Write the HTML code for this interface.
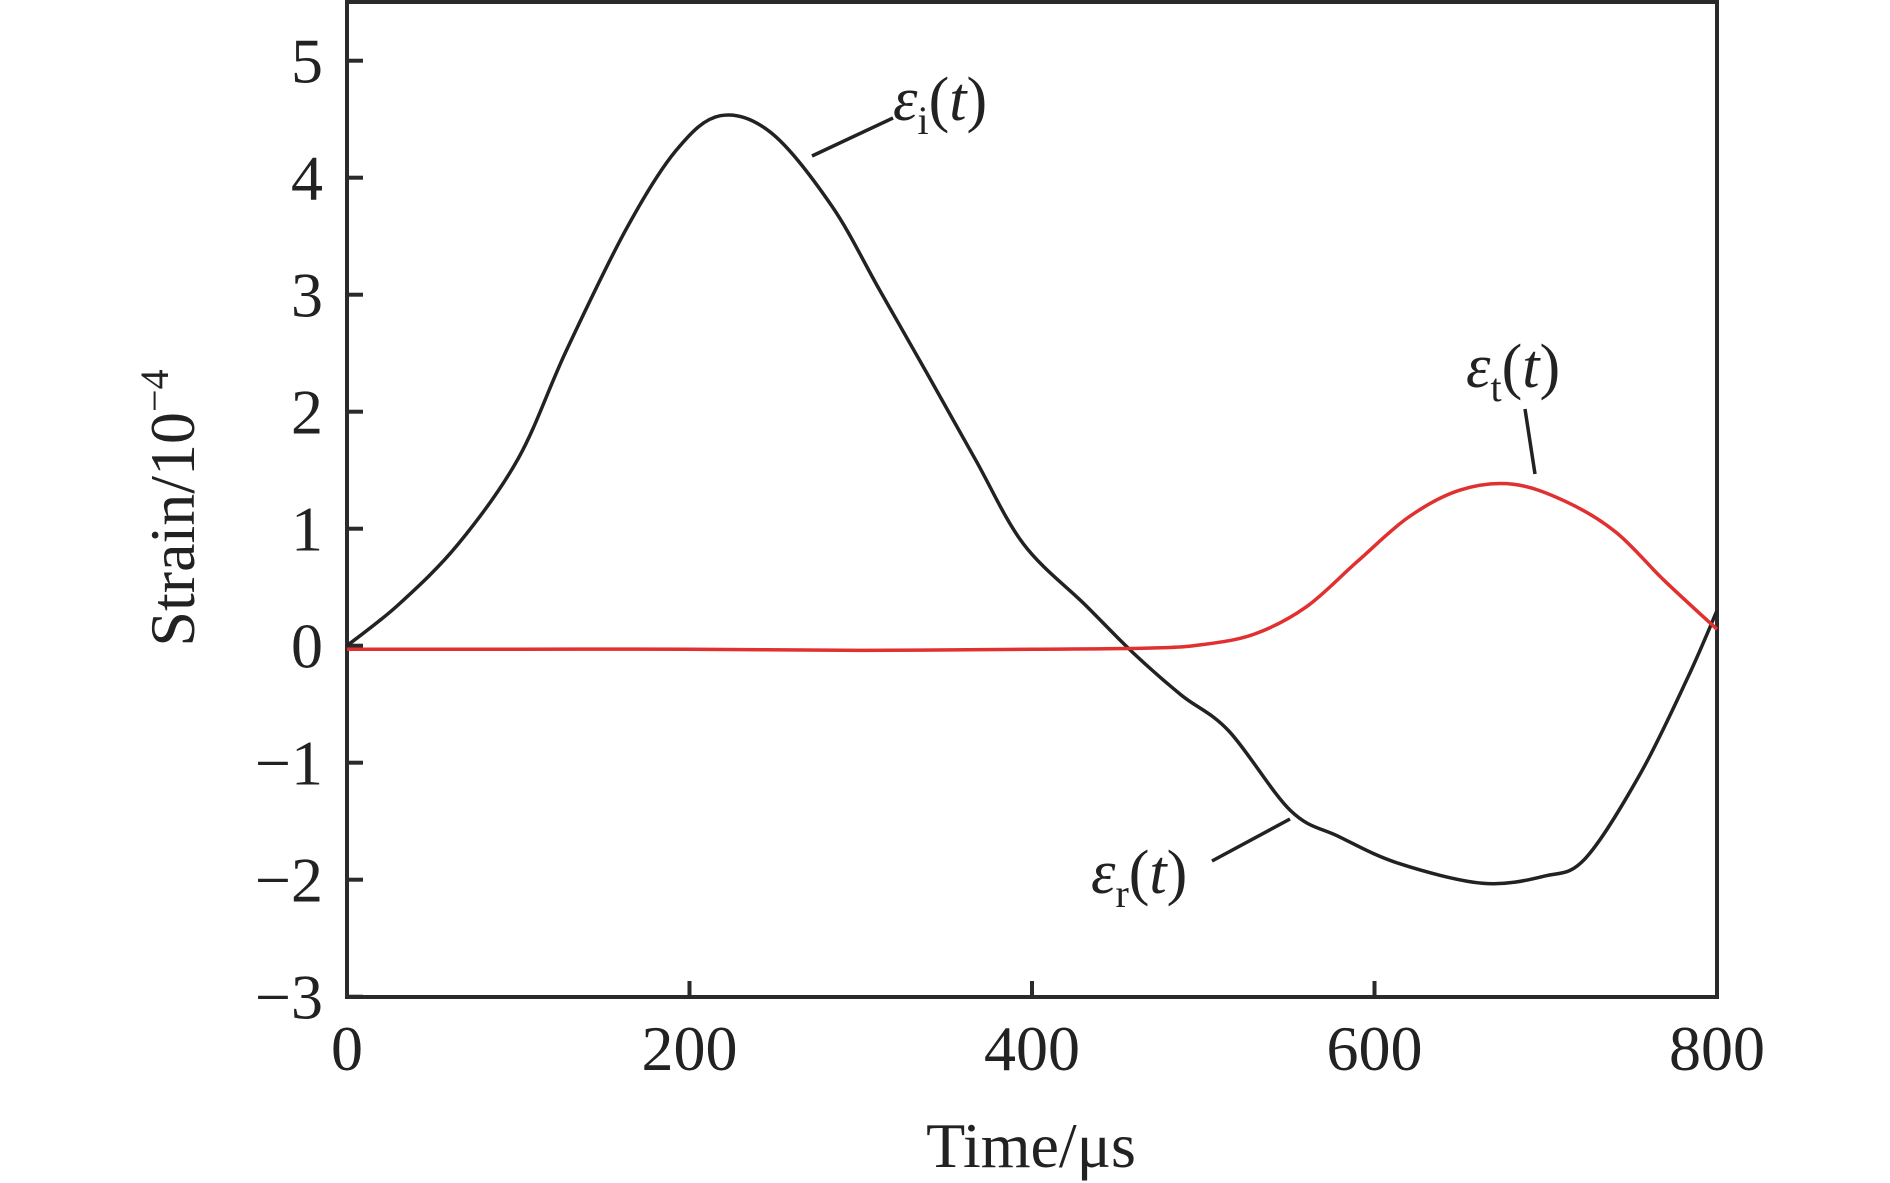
<!DOCTYPE html>
<html><head><meta charset="utf-8"><style>
html,body{margin:0;padding:0;background:#fff;}
svg{display:block;font-family:"Liberation Serif",serif;}
</style></head><body>
<svg id="chart" width="1890" height="1183" viewBox="0 0 1890 1183" xmlns="http://www.w3.org/2000/svg">
<g id="plot"></g>
</svg>
<script>
const xTicks=[0,200,400,600,800];
const yTicks=[-3,-2,-1,0,1,2,3,4,5];
const tI=[0,30,65,100,128,163,192,218,248,283,311,339,367,395,431,459,487,515,551,579,614,663,699,723,755,783,800];
const vI=[0,0.35,0.87,1.6,2.52,3.56,4.23,4.53,4.38,3.76,3.04,2.32,1.59,0.87,0.35,-0.06,-0.42,-0.73,-1.41,-1.63,-1.86,-2.03,-1.97,-1.82,-1.10,-0.27,0.3];
const tT=[0,100,200,300,400,470,500,530,560,590,620,650,681,712,741,769,800];
const vT=[-0.03,-0.03,-0.03,-0.04,-0.03,-0.02,0.01,0.10,0.33,0.72,1.10,1.33,1.38,1.23,0.97,0.56,0.14];

const NS='http://www.w3.org/2000/svg';
const L=347,R=1717,T=2,B=997;
const x=t=>L+t*(R-L)/800;
const y=v=>60.7+(5-v)*117;
const g=document.getElementById('plot');
function mk(tag,attrs){const e=document.createElementNS(NS,tag);for(const k in attrs)e.setAttribute(k,attrs[k]);g.appendChild(e);return e;}
function smooth(ts,vs){const p=ts.map((t,i)=>[x(t),y(vs[i])]);let d='M'+p[0][0]+','+p[0][1];
 for(let i=0;i<p.length-1;i++){const p0=p[i-1]||p[i],p1=p[i],p2=p[i+1],p3=p[i+2]||p2;
 const c1=[p1[0]+(p2[0]-p0[0])/6,p1[1]+(p2[1]-p0[1])/6],c2=[p2[0]-(p3[0]-p1[0])/6,p2[1]-(p3[1]-p1[1])/6];
 d+=' C'+c1[0]+','+c1[1]+' '+c2[0]+','+c2[1]+' '+p2[0]+','+p2[1];}return d;}

const frame=mk('rect',{x:L,y:T,width:R-L,height:B-T,fill:'none',stroke:'#2a2a2a','stroke-width':4});


xTicks.forEach(t=>{
 const tk=mk('line',{x1:x(t),x2:x(t),y1:B,y2:B-16,stroke:'#2a2a2a','stroke-width':4});
 
 
 const lb=mk('text',{x:x(t),y:1070,'text-anchor':'middle','font-size':64,fill:'#222'});
 lb.textContent=t;
 
 
});
yTicks.forEach(v=>{
 const tk=mk('line',{x1:L,x2:L+16,y1:y(v),y2:y(v),stroke:'#2a2a2a','stroke-width':4});
 
 
 const lb=mk('text',{x:323,y:y(v)+22,'text-anchor':'end','font-size':64,fill:'#222'});
 lb.textContent=v<0?'\u2212'+(-v):v;
 
 
});
const li=mk('path',{d:smooth(tI,vI),fill:'none',stroke:'#222','stroke-width':3.5});


const lt=mk('path',{d:smooth(tT,vT),fill:'none',stroke:'#e03030','stroke-width':3.5});



function leader(x1,y1,x2,y2,name){const l=mk('line',{x1,y1,x2,y2,stroke:'#222','stroke-width':3.5});
 
 }
leader(812,156,893,118,'epsilon-i-leader');
leader(1525,409,1535,474,'epsilon-t-leader');
leader(1212,861,1290,819,'epsilon-r-leader');
function lab(xx,yy,sub,name){const t=mk('text',{x:xx,y:yy,'font-size':62,fill:'#222'});
 t.innerHTML='<tspan font-style="italic">ε</tspan><tspan font-size="40" dy="14">'+sub+'</tspan><tspan dy="-14">(</tspan><tspan font-style="italic">t</tspan>)';
 
 }
lab(893,120,'i','epsilon-i-label');
lab(1466,387,'t','epsilon-t-label');
lab(1091,893,'r','epsilon-r-label');
const xt=mk('text',{x:1031,y:1167,'text-anchor':'middle','font-size':64,fill:'#222'});
xt.textContent='Time/μs';


const yt=mk('text',{x:0,y:0,'text-anchor':'middle','font-size':64,fill:'#222',transform:'translate(194,508) rotate(-90)'});
yt.innerHTML='Strain/10<tspan font-size="40" dy="-26">−4</tspan>';


</script>
</body></html>
